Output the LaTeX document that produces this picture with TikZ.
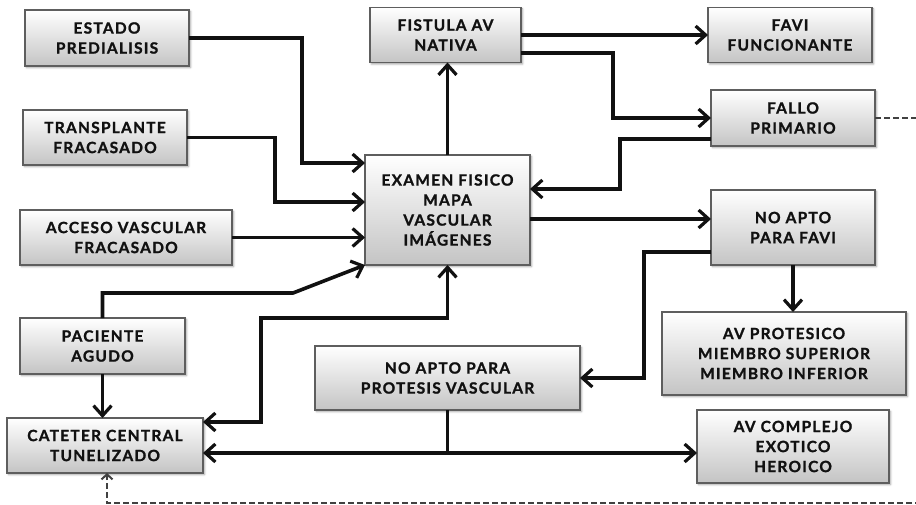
\documentclass[tikz,border=0pt]{standalone}
\usepackage{fontspec}
\setmainfont{Lato}
\usetikzlibrary{arrows.meta, calc, shadows.blur}
\newfontfamily\boxfont{Lato}[LetterSpace=8.0, BoldFeatures={FakeBold=1.3}]
\definecolor{ink}{HTML}{111111}
\definecolor{rim}{HTML}{5E5E5E}
\definecolor{shadelow}{HTML}{C4C4C4}
\tikzset{
  font=\boxfont\bfseries\fontsize{15.5}{20}\selectfont,
  >={Straight Barb[length=10pt, width=18pt, line width=3.2pt]},
  %
  box/.style={
    draw=rim, line width=1.4pt, top color=white, bottom color=shadelow,
    align=center, text=ink, inner sep=0pt, outer sep=0pt,
    blur shadow={shadow xshift=1.5pt, shadow yshift=-1.5pt, shadow blur steps=4},
  },
  %
  flow/.style={draw=ink, line width=3.6pt, ->},
  flowboth/.style={flow, <->},
  joint/.style={draw=ink, line width=3.6pt},
  flowdash/.style={draw=ink!80, line width=2pt, dash pattern=on 6pt off 3pt,
                   -{Straight Barb[length=5pt, width=11pt, line width=2pt]}},
}

\begin{document}
\begin{tikzpicture}[x=1pt, y=-1pt]

  \useasboundingbox (0,0) rectangle (916,505);
  \clip (0,0) rectangle (916,505);

  % ---- left column ------------------------------------------------------
  \node[box, minimum width=164pt, minimum height=56pt] (estado)      at (107,38)    {ESTADO\\PREDIALISIS};
  \node[box, minimum width=164pt, minimum height=55pt] (transplante) at (105,137.5) {TRANSPLANTE\\FRACASADO};
  \node[box, minimum width=212pt, minimum height=55pt] (acceso)      at (126,237.5) {ACCESO VASCULAR\\FRACASADO};
  \node[box, minimum width=165pt, minimum height=56pt] (paciente)    at (102.5,346) {PACIENTE\\AGUDO};
  \node[box, minimum width=196pt, minimum height=55pt] (cateter)     at (105,445.5) {CATETER CENTRAL\\TUNELIZADO};

  % ---- middle column ----------------------------------------------------
  \node[box, minimum width=151pt, minimum height=55pt]  (fistula)  at (445.5,35)  {FISTULA AV\\NATIVA};
  \node[box, minimum width=165pt, minimum height=110pt] (examen)   at (447.5,210) {EXAMEN FISICO\\MAPA\\VASCULAR\\IMÁGENES};
  \node[box, minimum width=265pt, minimum height=64pt]  (protesis) at (447.5,378) {NO APTO PARA\\PROTESIS VASCULAR};

  % ---- right column -----------------------------------------------------
  \node[box, minimum width=164pt, minimum height=55pt] (favi)     at (790,35)    {FAVI\\FUNCIONANTE};
  \node[box, minimum width=164pt, minimum height=56pt] (fallo)    at (793,118)   {FALLO\\PRIMARIO};
  \node[box, minimum width=164pt, minimum height=75pt] (noapto)   at (793,227.5) {NO APTO\\PARA FAVI};
  \node[box, minimum width=244pt, minimum height=83pt] (avprot)   at (784,353.5) {AV PROTESICO\\MIEMBRO SUPERIOR\\MIEMBRO INFERIOR};
  \node[box, minimum width=192pt, minimum height=73pt] (complejo) at (793,446.5) {AV COMPLEJO\\EXOTICO\\HEROICO};

  % ---- into the examen --------------------------------------------------
  \draw[flow] (estado.east) -- ++(113,0) |- ($(examen.north west)+(0,8)$);
  \draw[flow] (transplante.east) -- ++(88,0) |- ($(examen.north west)+(0,47)$);
  \draw[flow] (acceso.east) -- (acceso.east -| examen.west);
  \draw[flow] (paciente.north) -- ++(0,-25) -- ++(190.5,0) -- (examen.south west);
  \draw[flowboth] ($(cateter.north east)+(0,4)$) -- ++(58,0) |- ($(examen.south)+(0,53)$) -- (examen.south);

  % ---- out of the examen ------------------------------------------------
  \draw[flow] (examen.north) -- (examen.north |- fistula.south);
  \draw[flow] (fistula.east) -- (favi.west);
  \draw[flow] ($(fistula.east)+(0,18)$) -- ++(92,0) |- (fallo.west);
  \draw[flow] ($(fallo.west)+(0,21)$) -- ++(-91,0) |- ($(examen.north east)+(0,34)$);
  \draw[flow] ($(examen.east)+(0,9)$) -- ($(noapto.west)+(0,-8.5)$);
  \draw[flow] ($(noapto.west)+(0,24.5)$) -- ++(-67,0) |- (protesis.east);
  \draw[flow] (noapto.south) -- (noapto.south |- avprot.north);

  % ---- cateter line -----------------------------------------------------
  \draw[flow] (paciente.south) -- (paciente.south |- cateter.north);
  \coordinate (join) at ($(cateter.east)+(0,7.5)$);
  \draw[flowboth] (join) -- (join -| complejo.west);
  \draw[joint] (protesis.south) -- (protesis.south |- join);

  % fallo primario back to cateter
  \draw[flowdash] (fallo.east) -- ++(60,0) -- ++(0,385) -| ($(cateter.south)+(2,0)$);

\end{tikzpicture}
\end{document}
